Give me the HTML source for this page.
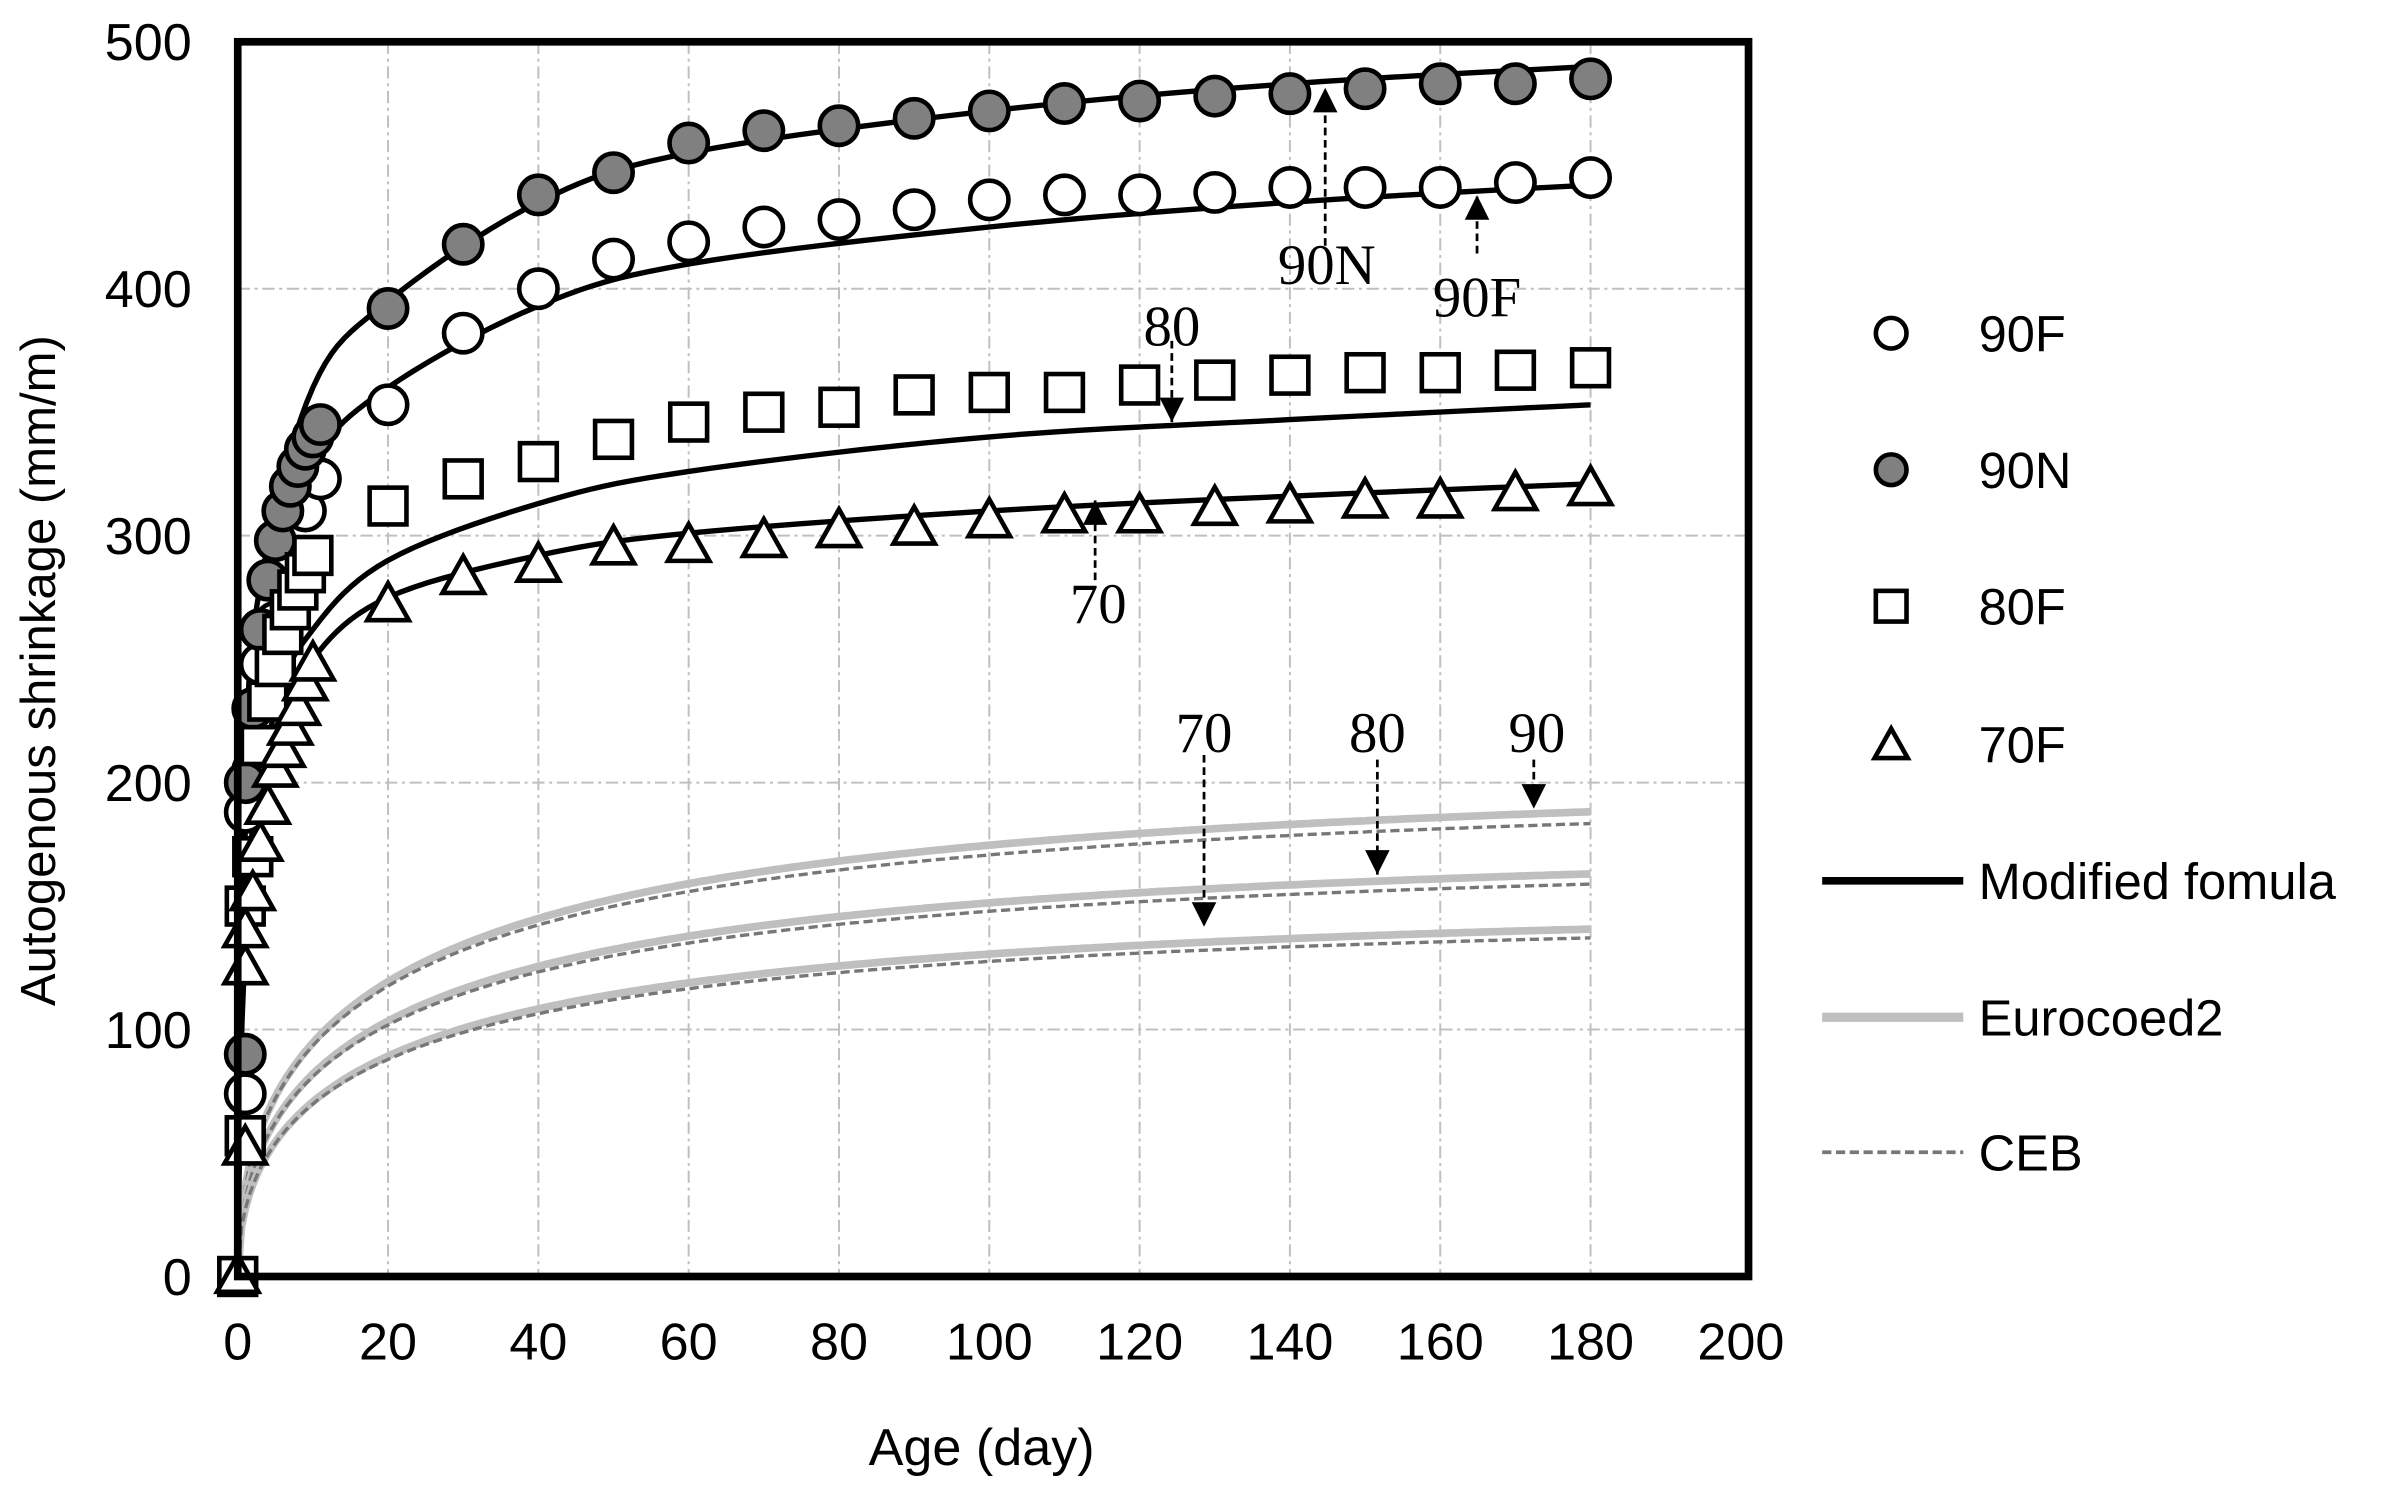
<!DOCTYPE html><html><head><style>body{margin:0;background:#fff}svg{display:block}</style></head><body>
<svg id="s" width="2405" height="1487" viewBox="0 0 1568 969" xmlns="http://www.w3.org/2000/svg" font-family="Liberation Sans, sans-serif">
<g id="grid" stroke="#c0c0c0" stroke-width="1.3" stroke-dasharray="8,3,2,3"></g>
<g id="ser"></g>
<rect x="155" y="27" width="985" height="805" fill="none" stroke="#000" stroke-width="5"/>
<g id="lab" font-size="34"></g>
<text x="36" y="437" font-size="32" text-anchor="middle" transform="rotate(-90 36 437)">Autogenous shrinkage (mm/m)</text>
<text x="640" y="955" font-size="34" text-anchor="middle">Age (day)</text>
<g font-family="Liberation Serif, serif" font-size="37" id="ann"></g>
<g id="leg" font-size="33"></g>
</svg>
<script>
const NS="http://www.w3.org/2000/svg";
const X=t=>155+t*4.9, Y=v=>832-v*1.61;
function el(p,tag,a,txt){const e=document.createElementNS(NS,tag);for(const k in a)e.setAttribute(k,a[k]);if(txt!==undefined)e.textContent=txt;document.getElementById(p).appendChild(e);return e;}
for(let t=20;t<=180;t+=20)el('grid','line',{x1:X(t),y1:27,x2:X(t),y2:832});
for(let v=100;v<=400;v+=100)el('grid','line',{x1:155,y1:Y(v),x2:1140,y2:Y(v)});
for(let t=0;t<=200;t+=20)el('lab','text',{x:X(t),y:886,'text-anchor':'middle'},t);
for(let v=0;v<=500;v+=100)el('lab','text',{x:125,y:Y(v)+12,'text-anchor':'end'},v);
function ec(M,k,t){return M*(1-Math.exp(-k*Math.sqrt(t)));}
function curve(f,attrs){let d='';for(let t=0;t<=180;t+=0.5){d+=(t?'L':'M')+X(t).toFixed(1)+','+Y(f(t)).toFixed(1);}el('ser','path',Object.assign({d,fill:'none'},attrs));}
[[202,188],[175,163],[151,141]].forEach(([M])=>{
 curve(t=>ec(M,0.2,t),{stroke:'#bfbfbf','stroke-width':5});
 curve(t=>ec(M*0.97,0.205,t),{stroke:'#777','stroke-width':2.2,'stroke-dasharray':'6,3'});
});
function poly(pts){let d='';pts.forEach((p,i)=>{d+=(i?'L':'M')+X(p[0])+','+Y(p[1]);});el('ser','path',{d,fill:'none',stroke:'#000','stroke-width':3.5,'stroke-linejoin':'round'});}
function smooth(pts){const o=[];for(let i=0;i<pts.length-1;i++){const p0=pts[Math.max(0,i-1)],p1=pts[i],p2=pts[i+1],p3=pts[Math.min(pts.length-1,i+2)];for(let s=0;s<10;s++){const u=s/10,u2=u*u,u3=u2*u;const f=(a,b,c,d)=>0.5*(2*b+(-a+c)*u+(2*a-5*b+4*c-d)*u2+(-a+3*b-3*c+d)*u3);o.push([f(p0[0],p1[0],p2[0],p3[0]),f(p0[1],p1[1],p2[1],p3[1])]);}}o.push(pts[pts.length-1]);poly(o);}
smooth([[0,0],[1,200],[3,280],[10,360],[20,395],[40,435],[60,455],[100,472],[140,483],[180,490]]);
smooth([[0,0],[1,180],[5,280],[10,330],[20,360],[40,393],[60,410],[100,425],[140,435],[180,442]]);
smooth([[0,0],[1,150],[5,230],[10,262],[20,290],[40,313],[60,326],[100,340],[140,347],[180,353]]);
smooth([[0,0],[1,130],[5,215],[10,250],[20,275],[40,292],[60,301],[100,310],[140,316],[180,321]]);
const d90N=[[1,90],[1,200],[2,230],[3,262],[4,282],[5,298],[6,310],[7,320],[8,328],[9,335],[10,340],[11,345],[20,392],[30,418],[40,438],[50,447],[60,459],[70,464],[80,466],[90,469],[100,472],[110,475],[120,476],[130,478],[140,479],[150,481],[160,483],[170,483],[180,485]];
const d90F=[[1,74],[1,188],[2,205],[3,248],[5,265],[7,290],[9,310],[11,323],[20,353],[30,382],[40,400],[50,412],[60,419],[70,425],[80,428],[90,432],[100,436],[110,438],[120,438],[130,439],[140,441],[150,441],[160,441],[170,443],[180,445]];
const d80=[[0,0],[1,57],[1,150],[2,170],[3,215],[4,233],[5,247],[6,260],[7,270],[8,278],[9,285],[10,292],[20,312],[30,323],[40,330],[50,339],[60,346],[70,350],[80,352],[90,357],[100,358],[110,358],[120,361],[130,363],[140,365],[150,366],[160,366],[170,367],[180,368]];
const d70=[[0,0],[1,52],[1,125],[1,140],[2,155],[3,175],[4,190],[5,205],[6,213],[7,222],[8,230],[9,240],[10,248],[20,272],[30,283],[40,288],[50,295],[60,296],[70,298],[80,302],[90,303],[100,306],[110,308],[120,308],[130,311],[140,312],[150,314],[160,314],[170,317],[180,319]];
const sty={fill:'#fff',stroke:'#000','stroke-width':3};
function circ(p,x,y,f,r){el(p,'circle',Object.assign({},sty,{cx:x,cy:y,r:r||12.5,fill:f}));}
function sq(p,x,y,h){h=h||12;el(p,'rect',Object.assign({},sty,{x:x-h,y:y-h,width:2*h,height:2*h}));}
function tri(p,x,y,s){s=s||1;el(p,'path',Object.assign({},sty,{d:`M${x},${y-14*s}L${x+13.5*s},${y+10*s}L${x-13.5*s},${y+10*s}Z`}));}
d90F.forEach(p=>circ('ser',X(p[0]),Y(p[1]),'#fff'));
d90N.forEach(p=>circ('ser',X(p[0]),Y(p[1]),'#808080'));
d80.forEach(p=>sq('ser',X(p[0]),Y(p[1])));
d70.forEach(p=>tri('ser',X(p[0]),Y(p[1])));
function arrow(x,y1,y2){el('ann','line',{x1:x,y1:y1,x2:x,y2:y2,stroke:'#000','stroke-width':1.8,'stroke-dasharray':'5,3'});const dir=y2>y1?1:-1;el('ann','path',{d:`M${x},${y2}L${x-8},${y2-16*dir}L${x+8},${y2-16*dir}Z`,fill:'#000'});}
arrow(864,160,57);el('ann','text',{x:865,y:185,'text-anchor':'middle'},'90N');
arrow(963,165,127);el('ann','text',{x:963,y:206,'text-anchor':'middle'},'90F');
arrow(764,222,275);el('ann','text',{x:764,y:225,'text-anchor':'middle'},'80');
arrow(714,378,326);el('ann','text',{x:716,y:406,'text-anchor':'middle'},'70');
arrow(785,492,604);el('ann','text',{x:785,y:490,'text-anchor':'middle'},'70');
arrow(898,495,570);el('ann','text',{x:898,y:490,'text-anchor':'middle'},'80');
arrow(1000,495,527);el('ann','text',{x:1002,y:490,'text-anchor':'middle'},'90');
circ('leg',1233,217,'#fff',10);el('leg','text',{x:1290,y:229},'90F');
circ('leg',1233,306,'#808080',10);el('leg','text',{x:1290,y:318},'90N');
sq('leg',1233,395,10);el('leg','text',{x:1290,y:407},'80F');
tri('leg',1233,486,0.8);el('leg','text',{x:1290,y:497},'70F');
el('leg','line',{x1:1188,y1:574,x2:1280,y2:574,stroke:'#000','stroke-width':5});el('leg','text',{x:1290,y:586},'Modified fomula');
el('leg','line',{x1:1188,y1:663,x2:1280,y2:663,stroke:'#bfbfbf','stroke-width':6});el('leg','text',{x:1290,y:675},'Eurocoed2');
el('leg','line',{x1:1188,y1:751,x2:1280,y2:751,stroke:'#777','stroke-width':2.5,'stroke-dasharray':'6,3'});el('leg','text',{x:1290,y:763},'CEB');
</script>
</body></html>
